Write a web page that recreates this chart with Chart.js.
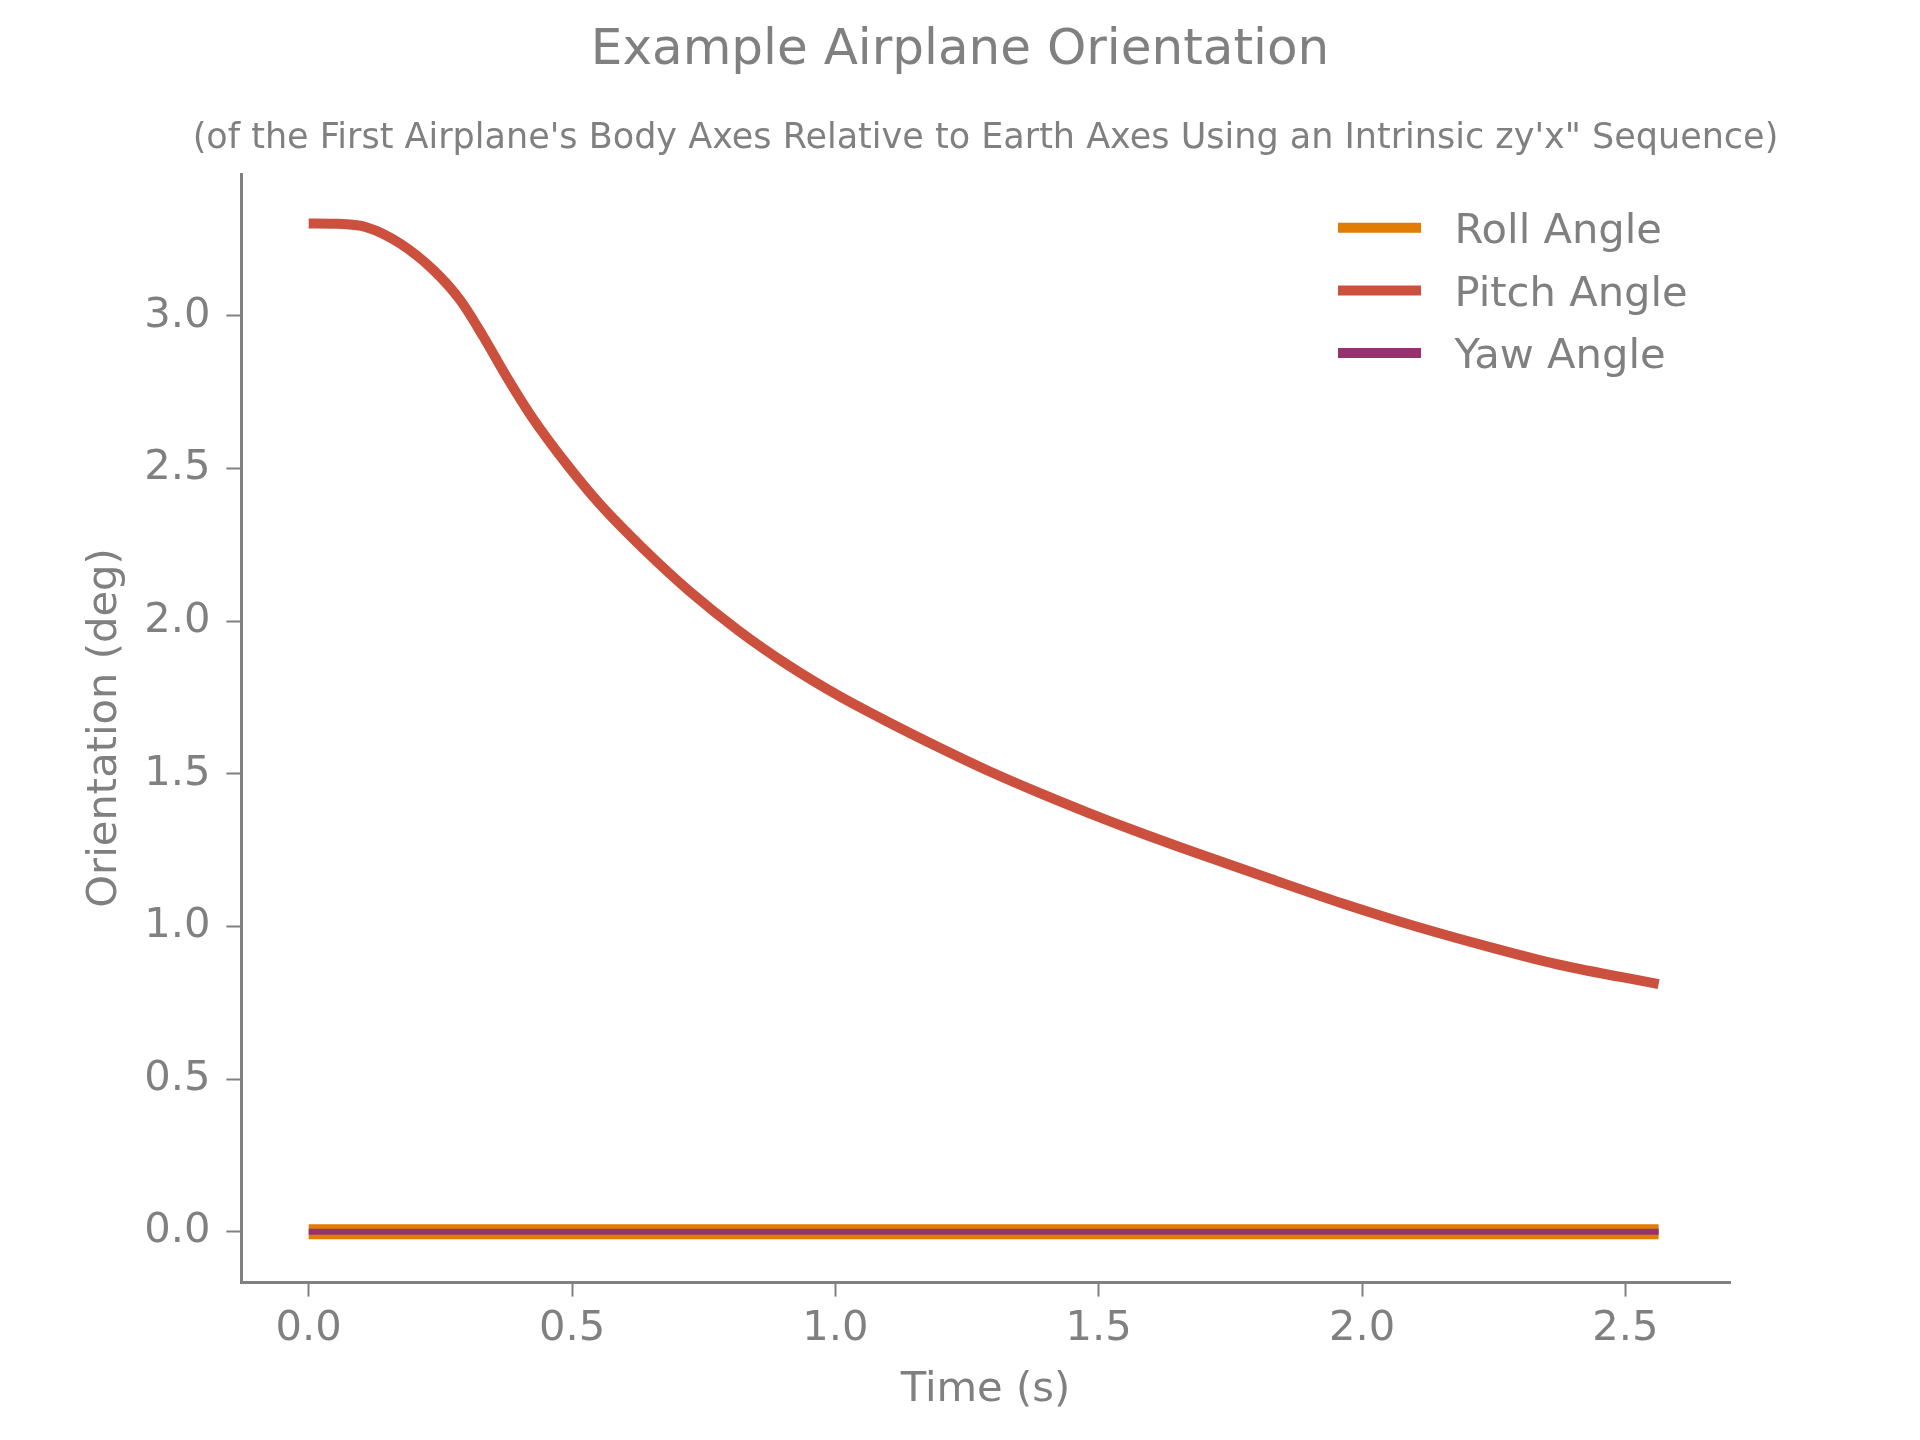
<!DOCTYPE html>
<html>
<head>
<meta charset="utf-8">
<title>Example Airplane Orientation</title>
<script src="https://cdn.jsdelivr.net/npm/chart.js@4.4.1/dist/chart.umd.min.js"></script>
<style>
  html, body { margin: 0; padding: 0; background: #fff; }
  canvas { display: block; }
</style>
</head>
<body>
<canvas id="c" width="1920" height="1440"></canvas>
<script>
// values
const timeS    = [0, 0.05, 0.111, 0.174, 0.237, 0.288, 0.332, 0.376, 0.426, 0.489, 0.552, 0.635, 0.723, 0.817, 0.912, 1.006, 1.101, 1.196, 1.290, 1.385, 1.479, 1.565, 1.691, 1.827, 1.963, 2.098, 2.234, 2.370, 2.563];
const pitchDeg = [3.303, 3.302, 3.290, 3.237, 3.150, 3.051, 2.931, 2.800, 2.663, 2.516, 2.385, 2.238, 2.098, 1.968, 1.854, 1.756, 1.669, 1.587, 1.510, 1.439, 1.373, 1.316, 1.237, 1.155, 1.075, 1.002, 0.936, 0.876, 0.811];
const flatTimeS = [0, 2.563];
const rollDeg  = [0, 0];
const yawDeg   = [0, 0];
const xTicks = [0, 0.5, 1.0, 1.5, 2.0, 2.5];
const yTicks = [0, 0.5, 1.0, 1.5, 2.0, 2.5, 3.0];

const titleText = 'Example Airplane Orientation';
const subtitleText = '(of the First Airplane\'s Body Axes Relative to Earth Axes Using an Intrinsic zy\'x" Sequence)';

const grey = '#808080';
const fam = '"DejaVu Sans", Verdana, sans-serif';
const pts = (xs, ys) => xs.map((x, i) => ({x, y: ys[i]}));

// axes title: centred over the plot area and allowed to run wider than it (Chart.js' subtitle would squeeze it)
const axesTitle = {
  id: 'axesTitle',
  afterDraw(chart){
    const {ctx, chartArea: a} = chart;
    ctx.save();
    ctx.fillStyle = grey; ctx.font = '35px ' + fam; ctx.textAlign = 'center'; ctx.textBaseline = 'middle';
    ctx.fillText(subtitleText, (a.left + a.right) / 2, 139);
    ctx.restore();
  }
};

// legend drawn inside the axes, upper right, like matplotlib's
const insideLegend = {
  id: 'insideLegend',
  afterDatasetsDraw(chart){
    const {ctx, chartArea: a} = chart;
    chart.data.datasets.forEach((ds, i)=>{
      const y = a.top + 53.7 + i*62.7;
      ctx.save();
      ctx.strokeStyle = ds.borderColor; ctx.lineWidth = 10; ctx.lineCap = 'butt';
      ctx.beginPath(); ctx.moveTo(a.right - 392, y); ctx.lineTo(a.right - 309, y); ctx.stroke();
      ctx.fillStyle = grey; ctx.font = '41.67px ' + fam; ctx.textBaseline = 'alphabetic'; ctx.textAlign = 'left';
      ctx.fillText(ds.label, a.right - 275.5, y + 15.2);
      ctx.restore();
    });
  }
};

const tickFont = {family: fam, size: 41.67, weight: 'normal'};
const labelFont = {family: fam, size: 41.67, weight: 'normal', lineHeight: 1.2};

new Chart(document.getElementById('c'), {
  type: 'line',
  data: {
    datasets: [
      {label: 'Roll Angle',  data: pts(flatTimeS, rollDeg),  borderColor: '#E17C05', borderWidth: 15, order: 2},
      {label: 'Pitch Angle', data: pts(timeS, pitchDeg),     borderColor: '#CC503E', borderWidth: 10, order: 1},
      {label: 'Yaw Angle',   data: pts(flatTimeS, yawDeg),   borderColor: '#94346E', borderWidth: 6,  order: 0}
    ]
  },
  options: {
    responsive: false, animation: false,
    elements: { point: { radius: 0 }, line: { cubicInterpolationMode: 'monotone', borderCapStyle: 'butt', fill: false } },
    layout: { padding: 0 },
    plugins: {
      legend: { display: false },
      tooltip: { enabled: false },
      title: {
        display: true, text: titleText, color: grey,
        font: {family: fam, size: 50, weight: 'normal', lineHeight: 1.2},
        padding: {top: 21.5, bottom: 92.5}   // bottom part leaves room for the axes title
      },
      subtitle: { display: false }
    },
    scales: {
      x: {
        type: 'linear', min: -0.1285, max: 2.6985,
        afterBuildTicks: s => { s.ticks = xTicks.map(v => ({value: v})); },
        afterFit: s => { s.height = 158; },
        ticks: { callback: v => Number(v).toFixed(1), color: grey, font: tickFont, padding: 8, maxRotation: 0, autoSkip: false },
        grid: { display: true, drawOnChartArea: false, drawTicks: true, tickLength: 14.6, tickWidth: 2, tickColor: grey },
        border: { display: true, color: grey, width: 3 },
        title: { display: true, text: 'Time (s)', color: grey, font: labelFont, padding: {top: 0, bottom: 25} }
      },
      y: {
        type: 'linear', position: 'left', min: -0.165, max: 3.465,
        afterBuildTicks: s => { s.ticks = yTicks.map(v => ({value: v})); },
        afterFit: s => { s.width = 241; },
        ticks: { callback: v => Number(v).toFixed(1), color: grey, font: tickFont, padding: 16, autoSkip: false },
        grid: { display: true, drawOnChartArea: false, drawTicks: true, tickLength: 14.6, tickWidth: 2, tickColor: grey },
        border: { display: true, color: grey, width: 3 },
        title: { display: true, text: 'Orientation (deg)', color: grey, font: labelFont, padding: {top: 80, bottom: 0} }
      },
      // empty right-hand box: keeps the figure margin without shifting the centred title
      yR: {
        type: 'linear', position: 'right', display: true,
        grid: { display: false }, ticks: { display: false }, border: { display: false },
        afterFit: s => { s.width = 190; }
      }
    }
  },
  plugins: [insideLegend, axesTitle]
});
</script>
</body>
</html>
